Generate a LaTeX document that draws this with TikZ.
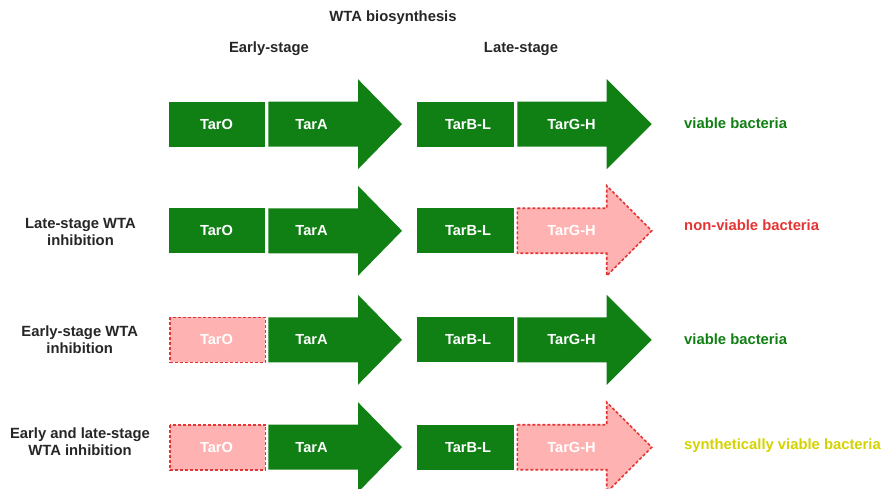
\documentclass[tikz,border=0pt]{standalone}
\usepackage{fontspec}
\setmainfont{Liberation Sans}
\definecolor{wgreen}{RGB}{16,128,20}
\definecolor{wpink}{RGB}{255,178,178}
\definecolor{wred}{RGB}{228,52,52}
\definecolor{wyellow}{RGB}{212,210,0}
\tikzset{
  ok/.style={fill=wgreen},
  blocked/.style={fill=wpink,draw=wred,line width=1.6pt,dash pattern=on 3pt off 2pt},
  boxlbl/.style={text=white,font=\fontsize{14.6}{17}\selectfont\bfseries,inner sep=0pt},
  lbl/.style={font=\fontsize{14.8}{17}\selectfont\bfseries,inner sep=0pt,text=black!85},
  res/.style={font=\fontsize{14.8}{17}\selectfont\bfseries,inner sep=0pt,anchor=west}
}
% rect: x0 x1 yc style
\newcommand{\wrect}[4]{\path[#4] (#1,#3-22.5) rectangle (#2,#3+22.5);}
% arrow: x0 xh xt yc style
\newcommand{\warrow}[5]{\path[#5] (#1,#4-22.5) -- (#2,#4-22.5) -- (#2,#4-45) -- (#3,#4) -- (#2,#4+45) -- (#2,#4+22.5) -- (#1,#4+22.5) -- cycle;}
\begin{document}
\begin{tikzpicture}[x=1pt,y=-1pt]
\useasboundingbox (0,0) rectangle (881,489);
\node[lbl] (title) at (393,18) {WTA biosynthesis};
\node[lbl] (early) at (269,49) {Early-stage};
\node[lbl] (late) at (521,49) {Late-stage};
% row 1
\wrect{168.7}{265.3}{124.2}{ok}
\warrow{268.3}{358}{402}{124.2}{ok}
\wrect{417.3}{514.3}{124.2}{ok}
\warrow{517.3}{606.7}{651.7}{124.2}{ok}
\node[boxlbl] (o1) at (216.5,124.2) {TarO};
\node[boxlbl] (a1) at (311.5,124.2) {TarA};
\node[boxlbl] (b1) at (468,124.2) {TarB-L};
\node[boxlbl] (g1) at (571.5,124.2) {TarG-H};
\node[res,text=wgreen] (r1) at (684,123) {viable bacteria};
% row 2
\wrect{168.7}{265.3}{230.8}{ok}
\warrow{268.3}{358}{402}{230.8}{ok}
\wrect{417.3}{514.3}{230.8}{ok}
\warrow{517.3}{606.7}{651.7}{230.8}{blocked}
\node[boxlbl] (o2) at (216.5,230.8) {TarO};
\node[boxlbl] (a2) at (311.5,230.8) {TarA};
\node[boxlbl] (b2) at (468,230.8) {TarB-L};
\node[boxlbl] (g2) at (571.5,230.8) {TarG-H};
\node[lbl,align=center] (l2) at (80.5,231.5) {Late-stage WTA\\inhibition};
\node[res,text=wred] (r2) at (684,225) {non-viable bacteria};
% row 3
\wrect{169.7}{265.3}{339.8}{blocked}
\warrow{268.3}{358}{402}{339.8}{ok}
\wrect{417.3}{514.3}{339.8}{ok}
\warrow{517.3}{606.7}{651.7}{339.8}{ok}
\node[boxlbl] (o3) at (216.5,339.8) {TarO};
\node[boxlbl] (a3) at (311.5,339.8) {TarA};
\node[boxlbl] (b3) at (468,339.8) {TarB-L};
\node[boxlbl] (g3) at (571.5,339.8) {TarG-H};
\node[lbl,align=center] (l3) at (79.7,340) {Early-stage WTA\\inhibition};
\node[res,text=wgreen] (r3) at (684,339) {viable bacteria};
% row 4
\wrect{169.7}{265.3}{447.2}{blocked}
\warrow{268.3}{358}{402}{447.2}{ok}
\wrect{417.3}{514.3}{447.2}{ok}
\warrow{517.3}{606.7}{651.7}{447.2}{blocked}
\node[boxlbl] (o4) at (216.5,447.2) {TarO};
\node[boxlbl] (a4) at (311.5,447.2) {TarA};
\node[boxlbl] (b4) at (468,447.2) {TarB-L};
\node[boxlbl] (g4) at (571.5,447.2) {TarG-H};
\node[lbl,align=center] (l4) at (80,442) {Early and late-stage\\WTA inhibition};
\node[res,text=wyellow] (r4) at (684,446) {synthetically viable bacteria};
\end{tikzpicture}
\end{document}
